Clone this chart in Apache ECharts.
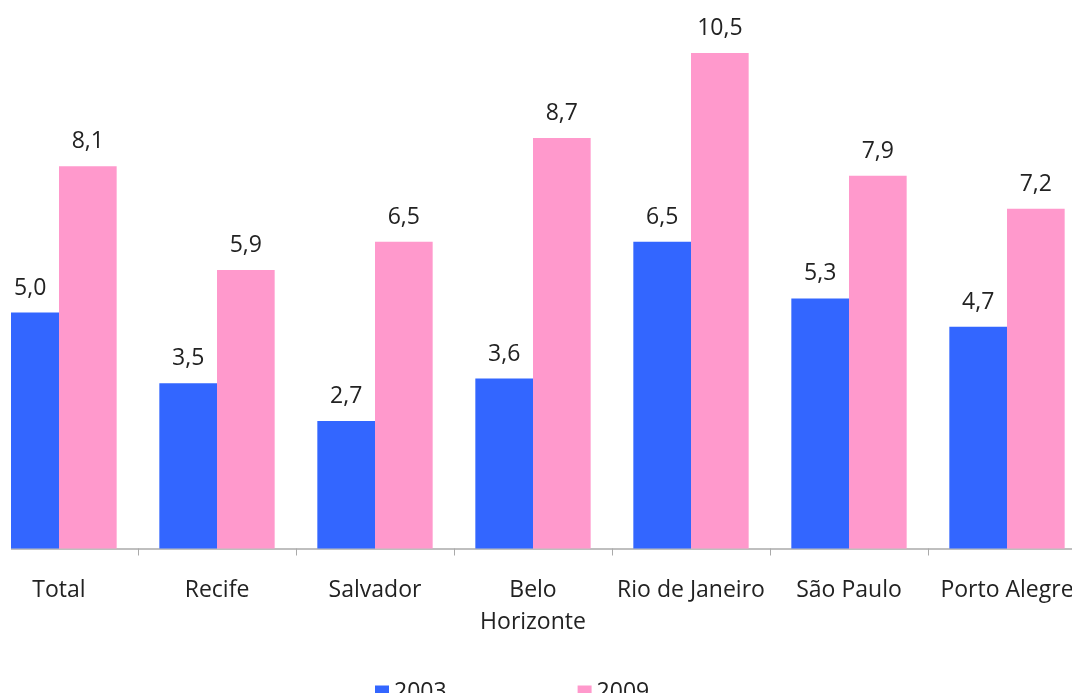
<!DOCTYPE html>
<html>
<head>
<meta charset="utf-8">
<script src="https://cdn.jsdelivr.net/npm/echarts@6/dist/echarts.min.js"></script>
<style>
  html, body { margin: 0; padding: 0; background: #fff; }
  #chart { width: 1072px; height: 693px; }
</style>
</head>
<body>
<div id="chart"></div>
<script>
// categorias e valores (%)
const categories = ["Total", "Recife", "Salvador", "Belo\nHorizonte", "Rio de Janeiro", "São Paulo", "Porto Alegre"];
const values2003 = [5.0, 3.5, 2.7, 3.6, 6.5, 5.3, 4.7];
const values2009 = [8.1, 5.9, 6.5, 8.7, 10.5, 7.9, 7.2];

const font = "'Open Sans', sans-serif";

// rótulo com vírgula decimal
function fmt(p) {
  return p.value.toFixed(1).replace(".", ",");
}

const labelStyle = {
  show: true,
  position: "top",
  distance: 13,
  formatter: fmt,
  color: "#222",
  fontSize: 23,
  fontFamily: font,
};

const chart = echarts.init(document.getElementById("chart"));
chart.setOption({
  animation: false,
  grid: {
    left: -20,
    right: -14,
    top: 53,
    bottom: 144.5,
    containLabel: false,
    outerBoundsMode: "none",
  },
  legend: {
    left: 370,
    top: 676,
    icon: "rect",
    itemWidth: 14,
    itemHeight: 14,
    itemGap: 131,
    textStyle: { fontSize: 23, fontFamily: font, color: "#222" },
    data: ["2003", "2009"],
  },
  xAxis: {
    type: "category",
    data: categories,
    axisLine: { lineStyle: { color: "#aaa", width: 1.5 } },
    axisTick: { show: true, length: 7, lineStyle: { color: "#aaa" } },
    axisLabel: {
      interval: 0,
      margin: 26,
      fontSize: 23,
      lineHeight: 32,
      fontFamily: font,
      color: "#222",
    },
  },
  yAxis: {
    type: "value",
    min: 0,
    max: 10.5,
    show: false,
  },
  series: [
    {
      name: "2003",
      type: "bar",
      data: values2003,
      barGap: "0%",
      barCategoryGap: "27%",
      itemStyle: { color: "#3366FF" },
      label: labelStyle,
    },
    {
      name: "2009",
      type: "bar",
      data: values2009,
      itemStyle: { color: "#FF99CC" },
      label: labelStyle,
    },
  ],
  // a área do gráfico começa em x=11 (recorte à esquerda)
  graphic: [
    {
      type: "rect",
      left: 0,
      top: 0,
      z: 100,
      shape: { width: 11, height: 560 },
      style: { fill: "#fff" },
    },
  ],
});
</script>
</body>
</html>
